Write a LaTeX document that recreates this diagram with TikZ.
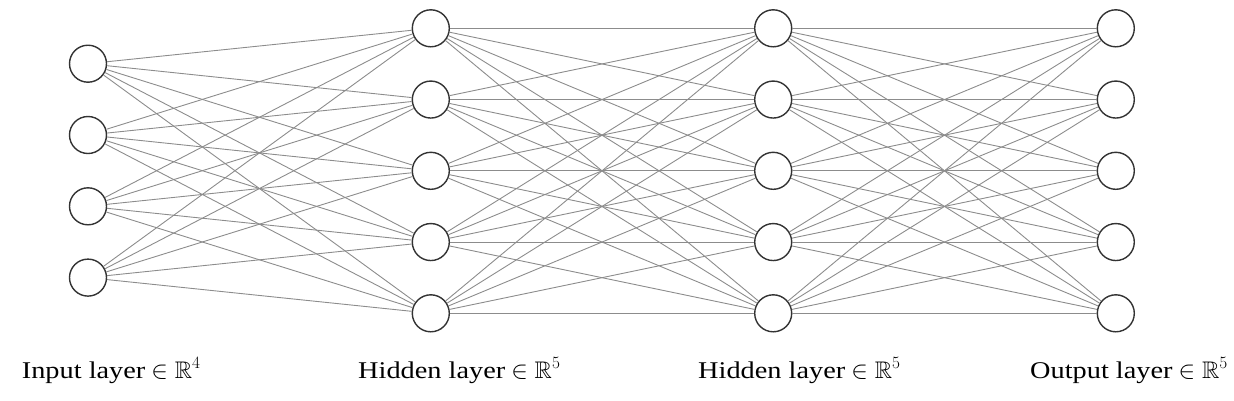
\documentclass[tikz,border=0pt]{standalone}
\usepackage{amssymb}
\usepackage{fontspec}
\setmainfont{Liberation Serif}
\newcommand{\widetext}[1]{\scalebox{1.18}[1]{#1}}
\begin{document}
\begin{tikzpicture}[x=1pt,y=-1pt,
  neuron/.style={circle,draw=black!80,line width=1.4pt,minimum size=37pt,inner sep=0pt,fill=white},
  conn/.style={draw=black!45,line width=0.9pt},
  lbl/.style={font=\fontsize{24}{28}\selectfont,anchor=base west,inner sep=0pt}]
\useasboundingbox (0,0) rectangle (1234,400);
% input layer
\foreach \i in {1,...,4}
  \node[neuron] (I\i) at (88, {63.7+71.3*(\i-1)}) {};
% hidden and output layers
\foreach \j in {1,...,5} {
  \node[neuron] (A\j) at (430.8, {28.3+71.25*(\j-1)}) {};
  \node[neuron] (B\j) at (773.2, {28.3+71.25*(\j-1)}) {};
  \node[neuron] (O\j) at (1115.8, {28.3+71.25*(\j-1)}) {};
}
\foreach \i in {1,...,4}
  \foreach \j in {1,...,5}
    \draw[conn] (I\i) -- (A\j);
\foreach \i in {1,...,5}
  \foreach \j in {1,...,5} {
    \draw[conn] (A\i) -- (B\j);
    \draw[conn] (B\i) -- (O\j);
  }
\node[lbl] (L1) at (21.7,378) {\widetext{Input layer} $\in \mathbb{R}^4$};
\node[lbl] (L2) at (358,378) {\widetext{Hidden layer} $\in \mathbb{R}^5$};
\node[lbl] (L3) at (698,378) {\widetext{Hidden layer} $\in \mathbb{R}^5$};
\node[lbl] (L4) at (1030,378) {\widetext{Output layer} $\in \mathbb{R}^5$};
\end{tikzpicture}
\end{document}
